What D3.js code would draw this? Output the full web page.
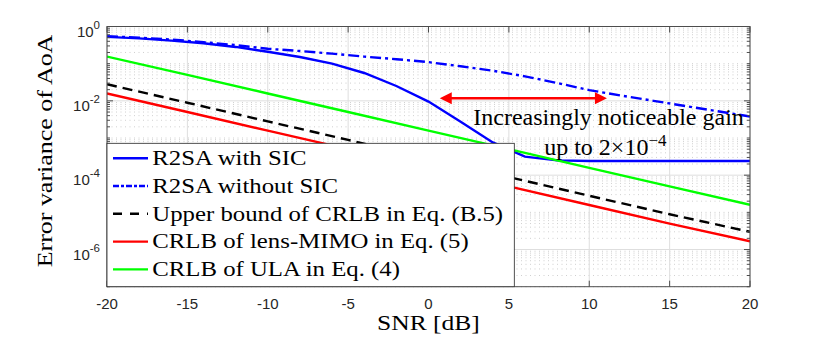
<!DOCTYPE html>
<html>
<head>
    <meta charset="utf-8">
    <script src="https://d3js.org/d3.v7.min.js"></script>
    <style>
        body { margin: 0; background: #fff; }
        text { font-family: "Liberation Serif", "Times New Roman", serif; }
        .tick-label { font-family: "Liberation Sans", Arial, sans-serif; font-size: 15px; fill: #262626; }
    </style>
</head>
<body>
<script type="text/javascript">
    // SNR grid of the simulated curves (2 dB steps)
    let snrSim = [-20, -18, -16, -14, -12, -10, -8, -6, -4, -2, 0, 2, 4, 6, 8, 10, 12, 14, 16, 18, 20];
    let r2saSic = [0.525, 0.479, 0.417, 0.355, 0.282, 0.209, 0.151, 0.100, 0.0562, 0.0251, 0.00955,
                   0.00275, 0.000759, 0.000316, 0.000251, 0.00024, 0.00024, 0.00024, 0.00024, 0.00024, 0.00024];
    let r2saNoSic = [0.550, 0.501, 0.447, 0.380, 0.316, 0.251, 0.219, 0.186, 0.155, 0.132, 0.110,
                     0.0851, 0.0646, 0.0457, 0.0302, 0.0195, 0.0138, 0.0100, 0.00724, 0.00525, 0.0038];

    // SNR grid of the analytic bounds (5 dB steps)
    let snrBound = [-20, -15, -10, -5, 0, 5, 10, 15, 20];
    let upperBound = [0.028, 0.0089, 0.0028, 0.00089, 0.00028, 0.000089, 0.000028, 0.0000089, 0.0000030];
    let crlbLens = [0.0158, 0.0050, 0.00158, 0.00050, 0.000158, 0.000050, 0.0000158, 0.0000050, 0.00000166];
    let crlbUla = [0.155, 0.050, 0.0158, 0.0050, 0.00158, 0.00050, 0.000158, 0.000050, 0.000016];

    let xTicks = [-20, -15, -10, -5, 0, 5, 10, 15, 20];
    let yTicks = [0, -2, -4, -6];   // exponents

    let legendLabels = ["R2SA with SIC", "R2SA without SIC", "Upper bound of CRLB in Eq. (B.5)",
                        "CRLB of lens-MIMO in Eq. (5)", "CRLB of ULA in Eq. (4)"];

    let series = [
        { x: snrSim, y: r2saSic, color: "#0000ff", dash: null },
        { x: snrSim, y: r2saNoSic, color: "#0000ff", dash: "11,4,3,4" },
        { x: snrBound, y: upperBound, color: "#000000", dash: "10,6" },
        { x: snrBound, y: crlbLens, color: "#ff0000", dash: null },
        { x: snrBound, y: crlbUla, color: "#00ff00", dash: null }
    ];

    let pLeft = 107, pRight = 750, pTop = 26.5, pBottom = 286.7;

    let svg = d3.select("body").append("svg")
        .attr("width", 830)
        .attr("height", 347);

    let x = d3.scaleLinear().domain([-20, 20]).range([pLeft, pRight]);
    let y = d3.scaleLog().domain([1e-7, 1]).range([pBottom, pTop]);

    svg.append("defs").append("clipPath").attr("id", "plot-clip")
        .append("rect")
            .attr("x", pLeft).attr("y", pTop)
            .attr("width", pRight - pLeft).attr("height", pBottom - pTop);

    // minor positions on the log axis
    let minorVals = [];
    for (let k = -7; k < 0; k++) {
        for (let m = 1; m <= 9; m++) {
            if (m == 1 && k % 2 == 0) continue;
            minorVals.push(m * Math.pow(10, k));
        }
    }

    let grid = svg.append("g");
    grid.selectAll(".ymin").data(minorVals).join("line")
        .attr("x1", pLeft).attr("x2", pRight)
        .attr("y1", d => y(d)).attr("y2", d => y(d))
        .attr("stroke", "#c4c4c4").attr("stroke-width", 0.8)
        .attr("stroke-dasharray", "1,3.5");
    grid.selectAll(".ymaj").data(yTicks).join("line")
        .attr("x1", pLeft).attr("x2", pRight)
        .attr("y1", d => y(Math.pow(10, d))).attr("y2", d => y(Math.pow(10, d)))
        .attr("stroke", "#dedede").attr("stroke-width", 1);
    grid.selectAll(".xmaj").data(xTicks).join("line")
        .attr("x1", d => x(d)).attr("x2", d => x(d))
        .attr("y1", pTop).attr("y2", pBottom)
        .attr("stroke", "#dedede").attr("stroke-width", 1);

    let line = d3.line();
    let curves = svg.append("g").attr("clip-path", "url(#plot-clip)");
    series.forEach(s => {
        curves.append("path")
            .attr("d", line(s.x.map((v, i) => [x(v), y(s.y[i])])))
            .attr("fill", "none")
            .attr("stroke", s.color)
            .attr("stroke-width", 2.4)
            .attr("stroke-dasharray", s.dash);
    });

    // box and ticks
    let axis = svg.append("g").attr("stroke", "#4d4d4d");
    axis.append("rect")
        .attr("x", pLeft).attr("y", pTop)
        .attr("width", pRight - pLeft).attr("height", pBottom - pTop)
        .attr("fill", "none").attr("stroke-width", 1);
    xTicks.forEach(t => {
        axis.append("line").attr("x1", x(t)).attr("x2", x(t)).attr("y1", pBottom).attr("y2", pBottom - 6);
        axis.append("line").attr("x1", x(t)).attr("x2", x(t)).attr("y1", pTop).attr("y2", pTop + 6);
    });
    yTicks.forEach(t => {
        let yy = y(Math.pow(10, t));
        axis.append("line").attr("x1", pLeft).attr("x2", pLeft + 6).attr("y1", yy).attr("y2", yy);
        axis.append("line").attr("x1", pRight).attr("x2", pRight - 6).attr("y1", yy).attr("y2", yy);
    });
    minorVals.forEach(v => {
        let yy = y(v);
        axis.append("line").attr("x1", pLeft).attr("x2", pLeft + 3).attr("y1", yy).attr("y2", yy);
        axis.append("line").attr("x1", pRight).attr("x2", pRight - 3).attr("y1", yy).attr("y2", yy);
    });

    svg.selectAll(".xlab").data(xTicks).join("text")
        .attr("class", "tick-label")
        .attr("x", d => x(d)).attr("y", pBottom + 22.5)
        .attr("text-anchor", "middle")
        .text(d => d);

    yTicks.forEach(t => {
        let tx = svg.append("text")
            .attr("class", "tick-label")
            .attr("x", 100).attr("y", y(Math.pow(10, t)) + 10)
            .attr("text-anchor", "end");
        tx.append("tspan").text("10");
        tx.append("tspan").attr("dy", -8).attr("font-size", "11.5px").text(t);
    });

    // axis titles
    svg.append("text")
        .attr("transform", `translate(${(pLeft + pRight) / 2},330) scale(1.16,1)`)
        .attr("text-anchor", "middle")
        .attr("font-size", "22px")
        .text("SNR [dB]");
    svg.append("text")
        .attr("transform", "translate(52,151) rotate(-90) scale(1.18,1)")
        .attr("text-anchor", "middle")
        .attr("font-size", "22px")
        .text("Error variance of AoA");

    // annotation: double arrow and text, placed in data units
    let arrowFrom = 0.7, arrowTo = 11.1, arrowVal = 0.0117;
    let ann = svg.append("g");
    let ay = y(arrowVal), ax1 = x(arrowFrom), ax2 = x(arrowTo);
    ann.append("line")
        .attr("x1", ax1 + 8).attr("x2", ax2 - 8)
        .attr("y1", ay).attr("y2", ay)
        .attr("stroke", "#ff0000").attr("stroke-width", 2.5);
    ann.append("path")
        .attr("d", `M${ax1},${ay} L${ax1 + 12},${ay - 6} L${ax1 + 12},${ay + 6} Z`)
        .attr("fill", "#ff0000");
    ann.append("path")
        .attr("d", `M${ax2},${ay} L${ax2 - 12},${ay - 6} L${ax2 - 12},${ay + 6} Z`)
        .attr("fill", "#ff0000");
    ann.append("text")
        .attr("x", x(11.2)).attr("y", y(0.00223))
        .attr("text-anchor", "middle")
        .attr("font-size", "24px")
        .text("Increasingly noticeable gain");
    let t2 = ann.append("text")
        .attr("x", x(11.0)).attr("y", y(0.000347))
        .attr("text-anchor", "middle")
        .attr("font-size", "24px");
    t2.append("tspan").text("up to 2\u00d710");
    t2.append("tspan").attr("dy", -9).attr("font-size", "17px").text("\u22124");

    // legend
    let legTop = 143.3, legRight = 514.3, rowH = 27.8;
    let leg = svg.append("g");
    leg.append("rect")
        .attr("x", pLeft).attr("y", legTop)
        .attr("width", legRight - pLeft).attr("height", pBottom - legTop)
        .attr("fill", "#ffffff")
        .attr("stroke", "#262626").attr("stroke-width", 0.8);
    legendLabels.forEach((lab, i) => {
        let by = legTop + 21.7 + i * rowH;
        leg.append("line")
            .attr("x1", 113).attr("x2", 148)
            .attr("y1", by - 6.8).attr("y2", by - 6.8)
            .attr("stroke", series[i].color)
            .attr("stroke-width", 2.4)
            .attr("stroke-dasharray", series[i].dash == null ? null : (i == 1 ? "6,2,3,2" : "9,8"));
        leg.append("text")
            .attr("transform", `translate(152.3,${by}) scale(1.18,1)`)
            .attr("font-size", "21px")
            .text(lab);
    });
</script>
</body>
</html>
